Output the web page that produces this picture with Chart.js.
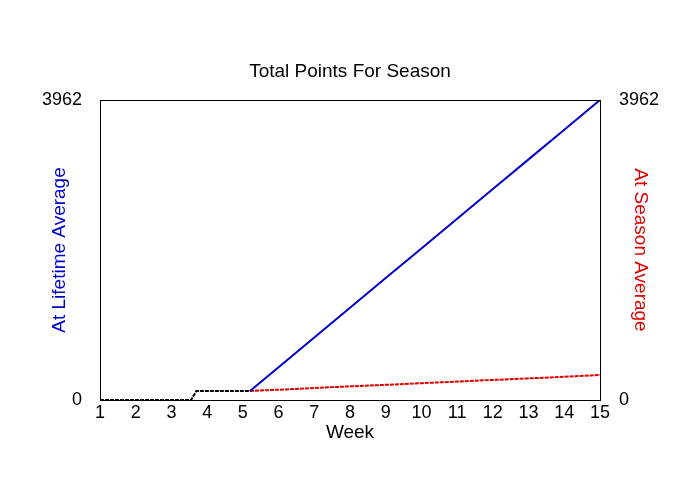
<!DOCTYPE html>
<html>
<head>
<meta charset="utf-8">
<script src="https://cdn.jsdelivr.net/npm/chart.js@4"></script>
<style>
  html, body { margin: 0; padding: 0; background: #fff; }
  #wrap { width: 700px; height: 500px; }
</style>
</head>
<body>
<div id="wrap"><canvas id="pointsChart"></canvas></div>
<script>
// weeks (fractional where the lines break) and totals
const preWeeks = [1, 3.55, 3.7, 5.2];
const preTotals = [0, 0, 119, 119];

const weeks = [5.2, 6, 7, 8, 9, 10, 11, 12, 13, 14, 15];
const lifetimeTotals = [119, 432, 826, 1218, 1610, 2002, 2394, 2786, 3178, 3570, 3962];
const seasonTotals = [119, 136, 158, 180, 200, 222, 243, 265, 285, 308, 330];

const yTicks = [0, 3962];

const toPoints = (xs, ys) => xs.map((x, i) => ({ x: x, y: ys[i] }));

const FONT = "'Liberation Sans', Arial, sans-serif";

// black frame round the plot
const frame = {
  id: 'frame',
  afterDatasetsDraw(chart) {
    const a = chart.chartArea;
    const c = chart.ctx;
    c.save();
    c.strokeStyle = '#000';
    c.lineWidth = 1;
    c.strokeRect(Math.round(a.left) + 0.5, Math.round(a.top) + 0.5,
      Math.round(a.right - a.left), Math.round(a.bottom - a.top));
    c.restore();
  }
};

window.onload = function() {
const ctx = document.getElementById('pointsChart');

new Chart(ctx, {
  type: 'line',
  data: {
    datasets: [
      {
        label: 'Before',
        data: toPoints(preWeeks, preTotals),
        borderColor: '#000000',
        borderWidth: 2,
        borderDash: [4, 1],
        pointRadius: 0,
        tension: 0,
        yAxisID: 'y'
      },
      {
        label: 'At Lifetime Average',
        data: toPoints(weeks, lifetimeTotals),
        borderColor: '#0000cc',
        borderWidth: 2,
        pointRadius: 0,
        tension: 0,
        yAxisID: 'y'
      },
      {
        label: 'At Season Average',
        data: toPoints(weeks, seasonTotals),
        borderColor: '#e00000',
        borderWidth: 2,
        borderDash: [4, 1],
        pointRadius: 0,
        tension: 0,
        yAxisID: 'y1'
      }
    ]
  },
  options: {
    responsive: true,
    maintainAspectRatio: false,
    animation: false,
    layout: { padding: { left: 0, right: 0, top: 0, bottom: 50 } },
    plugins: {
      legend: { display: false },
      tooltip: { enabled: false },
      title: {
        display: true,
        text: 'Total Points For Season',
        color: '#000',
        font: { family: FONT, size: 19, weight: 'normal' },
        padding: { top: 60.6, bottom: 16.6 }
      }
    },
    scales: {
      x: {
        type: 'linear',
        min: 1,
        max: 15,
        grid: { display: false, drawTicks: false },
        border: { display: false },
        ticks: {
          stepSize: 1,
          padding: 2,
          color: '#000',
          font: { family: FONT, size: 18 }
        },
        title: {
          display: true,
          text: 'Week',
          color: '#000',
          font: { family: FONT, size: 19 },
          padding: { top: 0, bottom: 6 }
        },
        afterFit(scale) { scale.height = 50; }
      },
      y: {
        position: 'left',
        min: 0,
        max: yTicks[1],
        grid: { display: false, drawTicks: false },
        border: { display: false },
        afterBuildTicks(scale) { scale.ticks = yTicks.map(v => ({ value: v })); },
        ticks: {
          padding: 18,
          color: '#000',
          font: { family: FONT, size: 18 },
          callback: v => String(v)
        },
        title: {
          display: true,
          text: 'At Lifetime Average',
          color: '#0000cc',
          font: { family: FONT, size: 19 },
          padding: { top: 48, bottom: 0 }
        },
        afterFit(scale) { scale.width = 100; }
      },
      y1: {
        position: 'right',
        min: 0,
        max: yTicks[1],
        grid: { display: false, drawTicks: false },
        border: { display: false },
        afterBuildTicks(scale) { scale.ticks = yTicks.map(v => ({ value: v })); },
        ticks: {
          padding: 19,
          color: '#000',
          font: { family: FONT, size: 18 },
          callback: v => String(v)
        },
        title: {
          display: true,
          text: 'At Season Average',
          color: '#e00000',
          font: { family: FONT, size: 19 },
          padding: { top: 48, bottom: 0 }
        },
        afterFit(scale) { scale.width = 100; }
      }
    }
  },
  plugins: [frame]
});
};
</script>
</body>
</html>
